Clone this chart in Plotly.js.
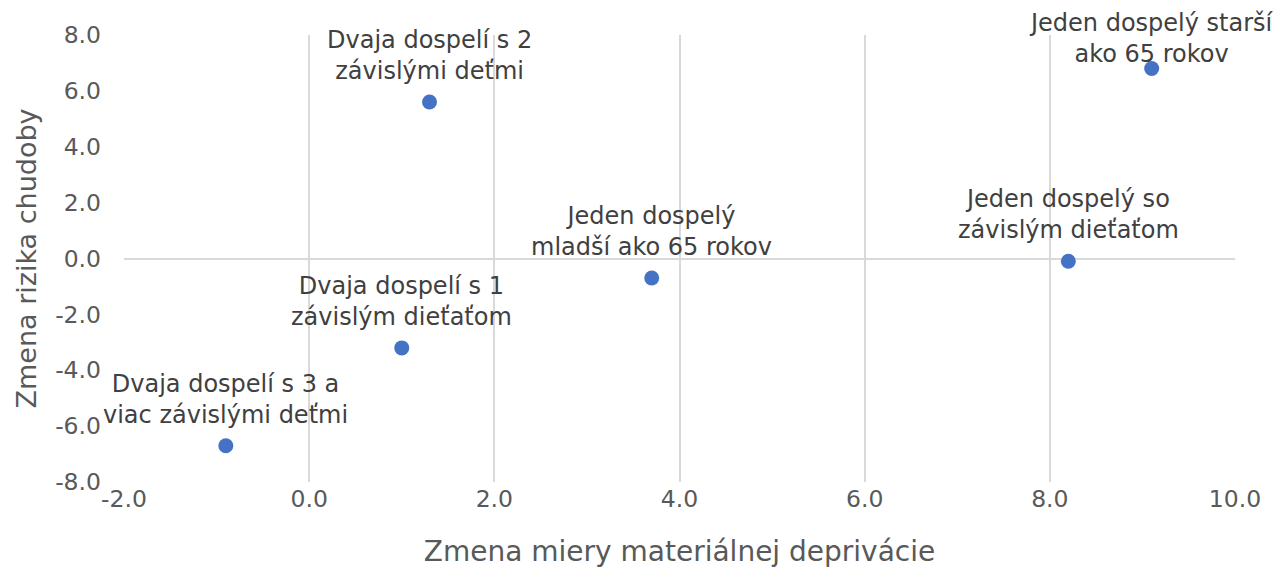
<!DOCTYPE html>
<html>
<head>
<meta charset="utf-8">
<script src="https://cdn.plot.ly/plotly-3.0.1.min.js"></script>
<style>
  html, body { margin: 0; padding: 0; background: #fff; }
  #chart { width: 1276px; height: 568px; }
</style>
</head>
<body>
<div id="chart"></div>
<script>
// Household types: change in material deprivation (x) vs change in poverty risk (y)
const labels = [
  "Dvaja dospelí s 2<br>závislými deťmi",
  "Jeden dospelý starší<br>ako 65 rokov",
  "Jeden dospelý<br>mladší ako 65 rokov",
  "Jeden dospelý so<br>závislým dieťaťom",
  "Dvaja dospelí s 1<br>závislým dieťaťom",
  "Dvaja dospelí s 3 a<br>viac závislými deťmi"
];
const deprivation = [1.3, 9.1, 3.7, 8.2, 1.0, -0.9];
const povertyRisk = [5.6, 6.8, -0.7, -0.1, -3.2, -6.7];

// axis ticks (plain hyphen for negatives, like the original)
const xTicks = [-2, 0, 2, 4, 6, 8, 10];
const yTicks = [-8, -6, -4, -2, 0, 2, 4, 6, 8];
const fmt = v => v.toFixed(1);

const FONT = "DejaVu Sans, Verdana, sans-serif";
const margin = { l: 124, r: 41, t: 35, b: 86 };
const yRange = [-8, 8];
const plotH = 568 - margin.t - margin.b;

// labels sit above the marker; push down the ones that would leave the chart
const annotations = labels.map((txt, i) => {
  const py = margin.t + (yRange[1] - povertyRisk[i]) / (yRange[1] - yRange[0]) * plotH;
  const shift = Math.min(15, py - 70);
  return {
    x: deprivation[i],
    y: povertyRisk[i],
    text: txt,
    showarrow: false,
    xanchor: "center",
    yanchor: "bottom",
    yshift: shift,
    font: { family: FONT, size: 24, color: "#404040" }
  };
});

const trace = {
  x: deprivation,
  y: povertyRisk,
  mode: "markers",
  type: "scatter",
  marker: { color: "#4472C4", size: 15 },
  cliponaxis: false,
  hoverinfo: "x+y"
};

const layout = {
  width: 1276,
  height: 568,
  margin: margin,
  paper_bgcolor: "#ffffff",
  plot_bgcolor: "#ffffff",
  showlegend: false,
  font: { family: FONT, color: "#595959" },
  xaxis: {
    range: [-2, 10],
    tickmode: "array",
    tickvals: xTicks,
    ticktext: xTicks.map(fmt),
    showgrid: true,
    gridcolor: "#d9d9d9",
    gridwidth: 2,
    zeroline: false,
    showline: false,
    tickfont: { size: 23.5, color: "#595959" },
    title: { text: "Zmena miery materiálnej deprivácie", font: { size: 28, color: "#595959" }, standoff: 30 }
  },
  yaxis: {
    range: yRange,
    tickmode: "array",
    tickvals: yTicks,
    ticktext: yTicks.map(fmt),
    showgrid: false,
    zeroline: true,
    zerolinecolor: "#d9d9d9",
    zerolinewidth: 2,
    showline: false,
    ticklabelstandoff: 22,
    tickfont: { size: 23.5, color: "#595959" },
    title: { text: "Zmena rizika chudoby", font: { size: 27, color: "#595959" }, standoff: 10 }
  },
  annotations: annotations
};

Plotly.newPlot("chart", [trace], layout, { displayModeBar: false, staticPlot: true });
</script>
</body>
</html>
